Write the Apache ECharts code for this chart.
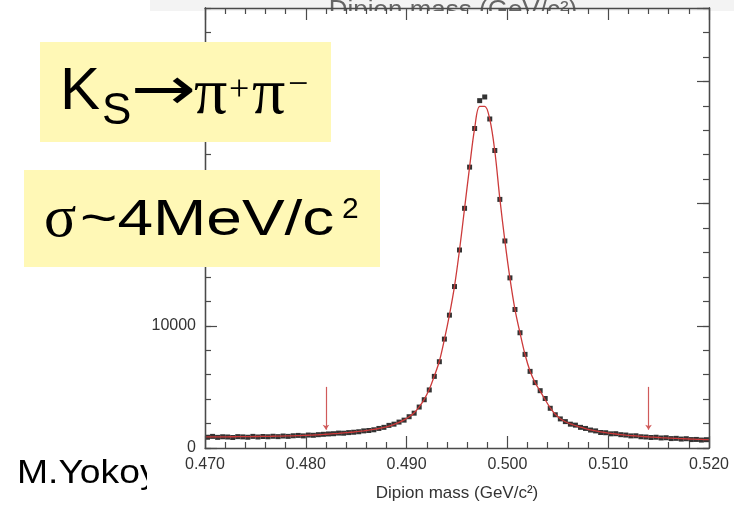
<!DOCTYPE html>
<html><head><meta charset="utf-8">
<script src="https://cdn.jsdelivr.net/npm/echarts@6/dist/echarts.min.js"></script>
<style>html,body{margin:0;padding:0;background:#fff}#c{width:734px;height:509px}</style>
</head><body><div id="c"></div>
<script>
// Histogram definition (bins of 0.5 MeV from 0.470 GeV)
const binStart = 0.470;
const binWidth = 0.0005;
// Entries per bin
const counts = [880,950,870,920,900,860,930,910,880,950,
900,940,920,960,930,980,950,1000,1030,990,
1060,1040,1090,1120,1150,1170,1220,1210,1260,1290,
1330,1400,1430,1490,1600,1690,1850,1950,2120,2280,
2560,2850,3350,3950,4750,5860,7060,8910,10870,13210,
16200,19610,22980,26140,28420,28720,26920,24340,20340,16940,
13920,11330,9430,7660,6270,5350,4690,4050,3250,2720,
2380,2160,1950,1870,1690,1600,1470,1400,1270,1250,
1160,1170,1090,1060,990,1000,920,900,860,880,
820,840,770,790,730,760,690,700,650,680];
// Fitted curve value at each bin centre
const fitValues = [905,908,911,914,917,920,924,928,932,937,
942,948,955,962,970,979,989,1000,1012,1027,
1044,1063,1085,1110,1138,1168,1200,1234,1270,1310,
1355,1405,1460,1522,1595,1680,1790,1930,2100,2300,
2550,2880,3370,3980,4800,5900,7100,8880,10900,13230,
16200,19600,23000,26150,27950,27950,26900,24300,20400,16950,
13900,11350,9420,7650,6280,5350,4650,3950,3280,2760,
2400,2150,1970,1830,1700,1590,1490,1400,1320,1255,
1195,1145,1100,1058,1020,985,952,922,895,870,
846,824,803,783,764,746,729,713,698,684];
const fitEdgeLeft = 903;
const fitEdgeRight = 678;
// Signal window arrows (GeV)
const arrowX = [0.482, 0.514];
const arrowTop = 5000, arrowBottom = 1500;
// Axis ranges / ticks
const xMin = 0.470, xMax = 0.520, xMajor = 0.01;
const yMin = 0, yMax = 36000, yMajor = 10000, yMinor = 2000;
const xLabel = 'Dipion mass (GeV/c²)';

const pts = counts.map((c, i) => [binStart + binWidth * (i + 0.5), c]);
const fitLine = [[xMin, fitEdgeLeft]].concat(fitValues.map((v, i) => [binStart + binWidth * (i + 0.5), v])).concat([[xMax, fitEdgeRight]]);

const axisCol = '#4a4a4a';
const sansF = '"Liberation Sans", Arial, Helvetica, sans-serif';
const serifF = '"Liberation Serif", "Times New Roman", serif';
const labelFont = {fontFamily: sansF, fontSize: 16, color: '#333'};

function xAx(pos, labels) {
  return {
    type: 'value', position: pos, min: xMin, max: xMax, interval: xMajor, z: 10,
    axisLine: {show: true, onZero: false, lineStyle: {color: axisCol, width: 1.3}},
    axisTick: {show: true, inside: true, length: 12, lineStyle: {color: axisCol, width: 1.2}},
    minorTick: {show: true, splitNumber: 5, length: 6, lineStyle: {color: axisCol, width: 1.2}},
    splitLine: {show: false}, minorSplitLine: {show: false},
    axisLabel: labels ? Object.assign({show: true, margin: 9, formatter: v => v.toFixed(3)}, labelFont) : {show: false},
    name: labels ? xLabel : '', nameLocation: 'middle', nameGap: 37,
    nameTextStyle: {fontFamily: sansF, fontSize: 17, color: '#333'}
  };
}
function yAx(pos, interval, len, labels) {
  return {
    type: 'value', position: pos, min: yMin, max: yMax, interval: interval, z: 10,
    axisLine: {show: true, onZero: false, lineStyle: {color: axisCol, width: 1.3}},
    axisTick: {show: true, inside: true, length: len, lineStyle: {color: axisCol, width: 1.2}},
    splitLine: {show: false},
    axisLabel: labels ? Object.assign({show: true, margin: 9, showMaxLabel: false, formatter: v => String(v)}, labelFont) : {show: false}
  };
}

const chart = echarts.init(document.getElementById('c'), null, {renderer: 'canvas'});
const yellow = '#fff8b6';
chart.setOption({
  animation: false,
  backgroundColor: '#ffffff',
  grid: {left: 205, right: 25, top: 8, bottom: 61, containLabel: false},
  xAxis: [xAx('bottom', true), xAx('top', false)],
  yAxis: [yAx('left', yMajor, 12, true), yAx('left', yMinor, 6, false), yAx('right', yMajor, 12, false), yAx('right', yMinor, 6, false)],
  series: [
    {type: 'scatter', xAxisIndex: 0, yAxisIndex: 0, data: pts, symbol: 'rect', symbolSize: 5,
     itemStyle: {color: '#000'}, z: 3, silent: true},
    {type: 'line', xAxisIndex: 0, yAxisIndex: 0, data: fitLine, smooth: 0.35, showSymbol: false,
     lineStyle: {color: '#cc3a3a', width: 1.3}, z: 4, silent: true,
     markLine: {silent: true, symbol: ['none', 'arrow'], symbolSize: 5, label: {show: false},
       lineStyle: {color: '#d05a5a', width: 1.2, type: 'solid'},
       data: arrowX.map(x => [{coord: [x, arrowTop]}, {coord: [x, arrowBottom]}])}}
  ],
  graphic: [
    {type: 'rect', z: 0, shape: {x: 150, y: 0, width: 584, height: 11}, style: {fill: '#f3f3f3'}},
    {type: 'text', z: 1, style: {text: 'Dipion mass (GeV/c²)', x: 453, y: -2, textAlign: 'center', textVerticalAlign: 'top', font: '26px ' + sansF, fill: '#666'}},
    {type: 'rect', z: 2, shape: {x: 206, y: 11, width: 500, height: 30}, style: {fill: '#ffffff'}},
    {type: 'text', z: 1, x: 17, y: 474, scaleX: 1.13, style: {text: 'M.Yokoyama', x: 0, y: 0, textVerticalAlign: 'middle', font: '33px ' + sansF, fill: '#000'}},
    {type: 'rect', z: 2, shape: {x: 147, y: 452, width: 130, height: 50}, style: {fill: '#ffffff'}},
    {type: 'rect', z: 100, shape: {x: 40, y: 42, width: 291, height: 100}, style: {fill: yellow}},
    {type: 'text', z: 101, style: {text: 'K', x: 60, y: 92, textVerticalAlign: 'middle', font: '60px ' + sansF, fill: '#000'}},
    {type: 'text', z: 101, style: {text: 'S', x: 102, y: 112, textVerticalAlign: 'middle', font: '44px ' + sansF, fill: '#000'}},
    {type: 'text', z: 101, x: 131, y: 93, scaleX: 1.3, style: {text: '→', x: 0, y: 0, textVerticalAlign: 'middle', font: '60px "DejaVu Sans", sans-serif', fill: '#000'}},
    {type: 'text', z: 101, style: {text: 'π', x: 194, y: 96, textVerticalAlign: 'middle', font: '66px ' + serifF, fill: '#000'}},
    {type: 'text', z: 101, style: {text: '+', x: 229, y: 91, textVerticalAlign: 'middle', font: '36px ' + serifF, fill: '#000'}},
    {type: 'text', z: 101, style: {text: 'π', x: 252, y: 96, textVerticalAlign: 'middle', font: '66px ' + serifF, fill: '#000'}},
    {type: 'text', z: 101, style: {text: '−', x: 288, y: 86, textVerticalAlign: 'middle', font: '36px ' + serifF, fill: '#000'}},
    {type: 'rect', z: 100, shape: {x: 24, y: 170, width: 356, height: 97}, style: {fill: yellow}},
    {type: 'text', z: 101, style: {text: 'σ', x: 44, y: 220, textVerticalAlign: 'middle', font: '60px ' + serifF, fill: '#000'}},
    {type: 'text', z: 101, x: 80, y: 221, scaleX: 1.28, style: {text: '~4MeV/c', x: 0, y: 0, textVerticalAlign: 'middle', font: '50px ' + sansF, fill: '#000'}},
    {type: 'text', z: 101, style: {text: '2', x: 342, y: 210, textVerticalAlign: 'middle', font: '30px ' + sansF, fill: '#000'}}
  ]
});
</script></body></html>
